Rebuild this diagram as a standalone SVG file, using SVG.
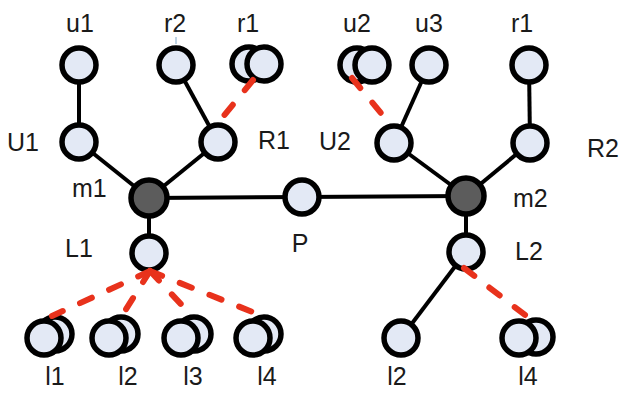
<svg xmlns="http://www.w3.org/2000/svg" width="624" height="393" viewBox="0 0 624 393">
<style>
.n{fill:#e3e9f5;stroke:#000;stroke-width:5.5}
.d{fill:#5c5c5c;stroke:#000;stroke-width:5.5}
.e{stroke:#000;stroke-width:4;fill:none}
.r{stroke:#e8321c;stroke-width:6;stroke-linecap:round;stroke-dasharray:13 19;fill:none}
text{font-family:"Liberation Sans",Arial,sans-serif;font-size:25px;fill:#1a1a1a}
.c{text-anchor:middle}
</style>
<rect width="624" height="393" fill="#fff"/>
<g id="connectors">
<line class="e" x1="79" y1="65" x2="79" y2="142"/>
<line class="e" x1="176" y1="65" x2="218" y2="142"/>
<line class="e" x1="79" y1="142" x2="149" y2="198"/>
<line class="e" x1="218" y1="142" x2="149" y2="198"/>
<line class="e" x1="149" y1="198" x2="302" y2="197"/>
<line class="e" x1="302" y1="197" x2="466" y2="196"/>
<line class="e" x1="149" y1="198" x2="149" y2="253"/>
<line class="e" x1="429" y1="65" x2="394" y2="143"/>
<line class="e" x1="394" y1="143" x2="466" y2="196"/>
<line class="e" x1="530" y1="143" x2="466" y2="196"/>
<line class="e" x1="529" y1="65" x2="530" y2="143"/>
<line class="e" x1="466" y1="196" x2="466" y2="252"/>
<line class="e" x1="466" y1="252" x2="401" y2="338"/>
<line x1="176" y1="37" x2="176" y2="44" stroke="#7fa6c8" stroke-width="1"/>
</g>
<g id="u1"><circle class="n" cx="79" cy="65" r="17"/><text class="c" x="80" y="32">u1</text></g>
<g id="r2"><circle class="n" cx="176" cy="65" r="17"/><text class="c" x="175" y="32">r2</text></g>
<g id="r1-left"><circle class="n" cx="249" cy="64" r="17"/><circle class="n" cx="264" cy="64" r="17"/><text class="c" x="248" y="32">r1</text></g>
<g id="U1"><circle class="n" cx="79" cy="142" r="17"/><text x="7" y="151">U1</text></g>
<g id="R1"><circle class="n" cx="218" cy="142" r="17"/><text x="258" y="149">R1</text></g>
<g id="m1"><circle class="d" cx="149" cy="198" r="18"/><text x="72" y="197">m1</text></g>
<g id="P"><circle class="n" cx="302" cy="197" r="17"/><text class="c" x="300" y="252">P</text></g>
<g id="L1"><circle class="n" cx="149" cy="253" r="17"/><text x="65" y="257">L1</text></g>
<g id="u2"><circle class="n" cx="357" cy="65" r="17"/><circle class="n" cx="372" cy="65" r="17"/><text class="c" x="357" y="32">u2</text></g>
<g id="u3"><circle class="n" cx="429" cy="65" r="17"/><text class="c" x="429" y="32">u3</text></g>
<g id="r1-right"><circle class="n" cx="529" cy="65" r="17"/><text class="c" x="522" y="32">r1</text></g>
<g id="U2"><circle class="n" cx="394" cy="143" r="17"/><text x="319" y="150">U2</text></g>
<g id="R2"><circle class="n" cx="530" cy="143" r="17"/><text x="587" y="157">R2</text></g>
<g id="m2"><circle class="d" cx="466" cy="196" r="18"/><text x="513" y="207">m2</text></g>
<g id="L2"><circle class="n" cx="466" cy="252" r="17"/><text x="515" y="260">L2</text></g>
<g id="l1"><circle class="n" cx="55" cy="334" r="17"/><circle class="n" cx="44" cy="338" r="17"/><text class="c" x="55" y="385">l1</text></g>
<g id="l2"><circle class="n" cx="121" cy="334" r="17"/><circle class="n" cx="109" cy="338" r="17"/><text class="c" x="128" y="385">l2</text></g>
<g id="l3"><circle class="n" cx="194" cy="334" r="17"/><circle class="n" cx="181" cy="338" r="17"/><text class="c" x="193" y="385">l3</text></g>
<g id="l4"><circle class="n" cx="264" cy="334" r="17"/><circle class="n" cx="253" cy="338" r="17"/><text class="c" x="267" y="385">l4</text></g>
<g id="l2-right"><circle class="n" cx="401" cy="338" r="17"/><text class="c" x="397" y="385">l2</text></g>
<g id="l4-right"><circle class="n" cx="536" cy="337" r="17"/><circle class="n" cx="519" cy="338" r="17"/><text class="c" x="528" y="385">l4</text></g>
<g id="dashed-connectors">
<line class="r" x1="253" y1="80" x2="222" y2="118"/>
<line class="r" x1="352" y1="78" x2="385" y2="118"/>
<line class="r" x1="150" y1="271" x2="52" y2="316"/>
<line class="r" x1="150" y1="271" x2="123" y2="314"/>
<line class="r" x1="150" y1="271" x2="192" y2="316"/>
<line class="r" x1="150" y1="271" x2="265" y2="317"/>
<line class="r" x1="464" y1="268" x2="525" y2="315"/>
</g>
</svg>
